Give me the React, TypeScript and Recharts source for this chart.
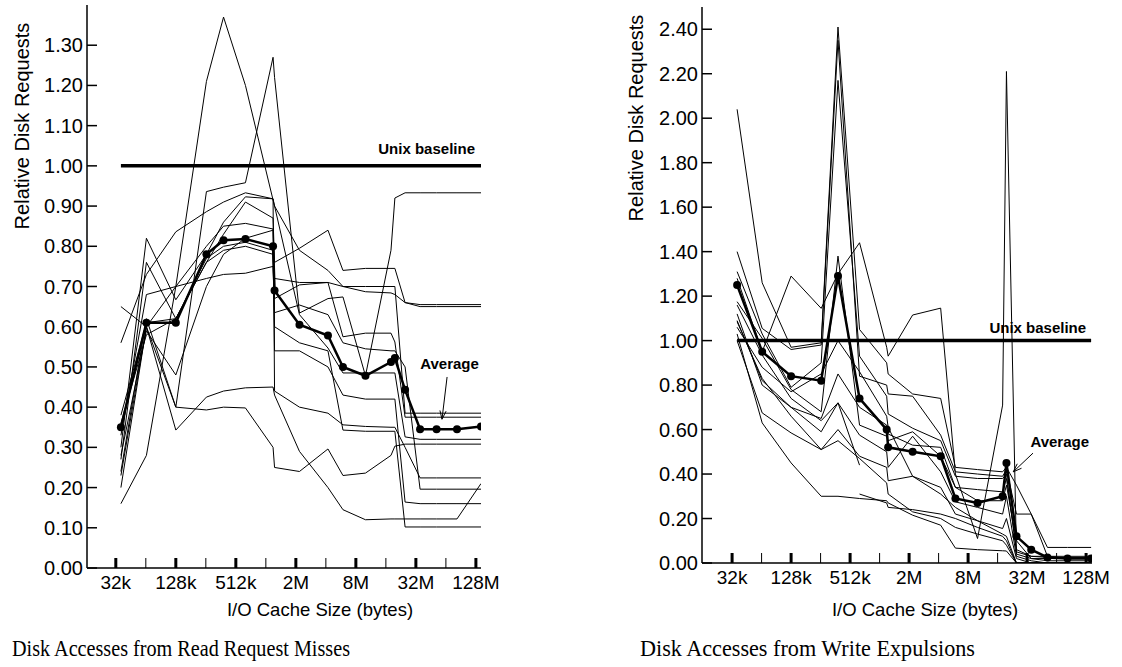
import React from "react";
import { LineChart, Line, XAxis, YAxis, ReferenceLine, ReferenceDot } from "recharts";

// Cache sizes as log2(size / 32k)
const cacheLog2 = [0, 0.85, 1.83, 2.85, 3.42, 4.15, 5.07, 5.12, 5.95, 6.9, 7.4, 8.15, 9.0, 9.13, 9.47, 9.97, 10.52, 11.2, 12];
const sizeLabels = ["32k", "64k", "128k", "256k", "512k", "1M", "2M", "4M", "8M", "16M", "32M", "64M", "128M"];
const tickShift = -0.17;

const readTicks = [0, 0.1, 0.2, 0.3, 0.4, 0.5, 0.6, 0.7, 0.8, 0.9, 1.0, 1.1, 1.2, 1.3];
const writeTicks = [0, 0.2, 0.4, 0.6, 0.8, 1.0, 1.2, 1.4, 1.6, 1.8, 2.0, 2.2, 2.4];

// Read request misses
const readAvg = [0.35, 0.61, 0.61, 0.78, 0.815, 0.818, 0.8, 0.69, 0.605, 0.578, 0.5, 0.478, 0.512, 0.522, 0.443, 0.345, 0.345, 0.345, 0.352];
const readA = [0.24, 0.62, 0.4, 0.936, 0.947, 0.958, 1.27, 1.22, 0.634, 0.67, 0.674, 0.478, 0.79, 0.92, 0.933, 0.933, 0.933, 0.933, 0.933];
const readB = [0.16, 0.28, 0.7, 1.21, 1.37, 1.2, 0.915, 0.9, 0.63, 0.547, 0.485, 0.485, 0.485, 0.485, 0.326, 0.32, 0.32, 0.32, 0.32];
const readC = [0.56, 0.73, 0.836, 0.886, 0.91, 0.933, 0.918, 0.9, 0.79, 0.74, 0.7, 0.687, 0.684, 0.68, 0.66, 0.65, 0.65, 0.65, 0.65];
const readD = [0.27, 0.76, 0.62, 0.76, 0.83, 0.91, 0.87, 0.76, 0.795, 0.84, 0.74, 0.745, 0.745, 0.745, 0.66, 0.655, 0.655, 0.655, 0.655];
const readE = [0.65, 0.6, 0.7, 0.8, 0.85, 0.857, 0.843, 0.72, 0.71, 0.71, 0.7, 0.7, 0.7, 0.7, 0.385, 0.385, 0.385, 0.385, 0.385];
const readF = [0.36, 0.58, 0.62, 0.77, 0.8, 0.81, 0.79, 0.67, 0.704, 0.71, 0.575, 0.584, 0.584, 0.562, 0.375, 0.375, 0.375, 0.375, 0.375];
const readG = [0.3, 0.82, 0.667, 0.78, 0.86, 0.923, 0.918, 0.44, 0.4, 0.385, 0.356, 0.352, 0.35, 0.35, 0.3, 0.224, 0.224, 0.224, 0.224];
const readH = [0.33, 0.68, 0.7, 0.72, 0.73, 0.733, 0.75, 0.635, 0.654, 0.63, 0.56, 0.545, 0.54, 0.54, 0.5, 0.196, 0.196, 0.196, 0.196];
const readI = [0.23, 0.6, 0.4, 0.393, 0.4, 0.398, 0.3, 0.25, 0.24, 0.296, 0.23, 0.236, 0.28, 0.303, 0.308, 0.308, 0.308, 0.308, 0.308];
const readJ = [0.2, 0.6, 0.343, 0.425, 0.44, 0.448, 0.45, 0.43, 0.29, 0.2, 0.145, 0.12, 0.122, 0.122, 0.122, 0.122, 0.122, 0.122, 0.21];
const readK = [0.28, 0.59, 0.48, 0.7, 0.78, 0.82, 0.84, 0.54, 0.54, 0.5, 0.43, 0.42, 0.42, 0.42, 0.164, 0.16, 0.16, 0.16, 0.16];
const readL = [0.38, 0.61, 0.62, 0.76, 0.79, 0.8, 0.78, 0.6, 0.56, 0.54, 0.343, 0.34, 0.34, 0.34, 0.102, 0.102, 0.102, 0.102, 0.102];
const readSeries = [readA, readB, readC, readD, readE, readF, readG, readH, readI, readJ, readK, readL];

// Write expulsions
const writeAvg = [1.25, 0.95, 0.84, 0.82, 1.29, 0.74, 0.6, 0.52, 0.5, 0.48, 0.29, 0.27, 0.3, 0.45, 0.12, 0.06, 0.025, 0.02, 0.02];
const writeA = [2.04, 1.26, 0.97, 0.99, 2.41, 1.05, 0.9, 0.85, 0.76, 0.74, 0.43, 0.42, 0.41, 0.43, 0.35, 0.22, 0.07, 0.07, 0.07];
const writeB = [1.4, 1.055, 0.96, 0.98, 2.35, 0.84, 0.8, 0.76, 0.75, 0.575, 0.41, 0.4, 0.39, 0.42, 0.22, 0.22, 0.03, 0.02, 0.02];
const writeC = [1.31, 1.03, 0.79, 0.9, 2.17, 0.93, 0.75, 0.67, 0.606, 0.55, 0.39, 0.38, 0.38, 0.4, 0.05, 0.03, 0.025, 0.025, 0.025];
const writeD = [1.28, 0.95, 1.29, 1.145, 1.3, 1.44, 0.97, 0.93, 1.115, 1.146, 0.4, 0.11, 0.71, 2.21, 0.04, 0.02, 0.02, 0.02, 0.02];
const writeE = [1.175, 1.01, 0.78, 0.68, 1.38, 0.62, 0.57, 0.55, 0.59, 0.48, 0.34, 0.28, 0.28, 0.35, 0.1, 0.02, 0.01, 0.01, 0.01];
const writeF = [1.16, 0.935, 0.74, 0.64, 0.72, 0.575, 0.5, 0.43, 0.57, 0.41, 0.275, 0.25, 0.22, 0.3, 0.03, 0.01, 0, 0, 0];
const writeG = [1.12, 0.8, 0.7, 0.59, 0.72, 0.44, null, null, null, null, null, null, null, null, null, null, null, null, null];
const writeH = [1.085, 0.83, 0.66, 0.51, 0.6, 0.48, 0.43, 0.37, 0.39, 0.34, 0.22, 0.19, 0.155, 0.2, 0.02, 0, 0, 0, 0];
const writeI = [1.03, 0.63, 0.45, 0.3, 0.3, 0.29, 0.28, 0.27, 0.215, 0.17, 0.067, 0.06, 0.055, 0.054, 0, 0, 0, 0, 0];
const writeJ = [1.0, 0.675, 0.585, 0.51, 0.55, 0.47, 0.36, 0.31, 0.23, 0.2, 0.16, 0.13, 0.1, 0.08, 0, 0, 0, 0, 0];
const writeK = [null, null, null, null, null, 0.31, 0.27, 0.25, 0.24, 0.22, 0.2, 0.16, 0.12, 0.1, 0, 0, 0, 0, 0];
const writeL = [1.09, 0.82, 0.7, 0.65, 0.85, 0.7, 0.62, 0.58, 0.53, 0.52, 0.34, 0.33, 0.32, 0.38, 0.06, 0.03, 0.03, 0.03, 0.03];
const writeM = [1.06, 0.88, 0.77, 0.85, 1.0, 0.86, 0.66, 0.61, 0.39, 0.31, 0.25, 0.19, 0.13, 0.12, 0, 0, 0, 0, 0];
const writeSeries = [writeA, writeB, writeC, writeD, writeE, writeF, writeG, writeH, writeI, writeJ, writeK, writeL, writeM];

const FONT = "'Liberation Sans', Arial, Helvetica, sans-serif";
const SERIF = "'Liberation Serif', 'Times New Roman', serif";

function buildRows(series: (number | null)[][], avg: number[]) {
  return cacheLog2.map((u, i) => {
    const row: Record<string, number | null> = { u, avg: avg[i] };
    series.forEach((s, k) => {
      row["s" + k] = s[i];
    });
    return row;
  });
}

const readRows = buildRows(readSeries, readAvg);
const writeRows = buildRows(writeSeries, writeAvg);
const xTicks = sizeLabels.map((_, k) => k + tickShift);

const XTick = (props: any) => {
  const { x, y, payload } = props;
  const k = Math.round(payload.value - tickShift);
  const major = k % 2 === 0;
  return (
    <g>
      <line x1={x} x2={x} y1={y} y2={y - 10} stroke="#000" strokeWidth={major ? 3 : 1} />
      {major && (
        <text x={x} y={y + 21} textAnchor="middle" fontSize={19} fontFamily={FONT} fill="#000">
          {sizeLabels[k]}
        </text>
      )}
    </g>
  );
};

const YTick = (props: any) => {
  const { x, y, payload } = props;
  return (
    <g>
      <line x1={x} x2={x + 10} y1={y} y2={y} stroke="#000" strokeWidth={1.5} />
      <text x={x - 4} y={y} textAnchor="end" dominantBaseline="central" fontSize={20} fontFamily={FONT} fill="#000">
        {Number(payload.value).toFixed(2)}
      </text>
    </g>
  );
};

const textShape = (txt: string, dy: number) => (p: any) => (
  <text x={p.cx} y={p.cy + dy} textAnchor="end" fontSize={15} fontWeight="bold" fontFamily={FONT} fill="#000">
    {txt}
  </text>
);

const arrowShape = (p: any) => {
  const { x1, y1, x2, y2 } = p;
  const ang = Math.atan2(y2 - y1, x2 - x1);
  const L = 9;
  const w = 0.35;
  const ax = x2 - L * Math.cos(ang - w);
  const ay = y2 - L * Math.sin(ang - w);
  const bx = x2 - L * Math.cos(ang + w);
  const by = y2 - L * Math.sin(ang + w);
  return (
    <g>
      <line x1={x1} y1={y1} x2={x2} y2={y2} stroke="#000" strokeWidth={1} />
      <path d={`M${ax},${ay} L${x2},${y2} L${bx},${by}`} fill="none" stroke="#000" strokeWidth={1} />
    </g>
  );
};

type PanelProps = {
  rows: any[];
  n: number;
  left: number;
  width: number;
  margin: { top: number; right: number; left: number; bottom: number };
  yAxisWidth: number;
  xAxisHeight: number;
  xDomain: [number, number];
  yDomain: [number, number];
  yTicks: number[];
  baselineDy: number;
  baselineEnd: number;
  avgLabel: { x: number; y: number };
  arrow: { x1: number; y1: number; x2: number; y2: number };
};

const Panel = (p: PanelProps) => (
  <div style={{ position: "absolute", left: p.left, top: 0 }}>
    <LineChart width={p.width} height={600} data={p.rows} margin={p.margin}>
      <XAxis
        type="number"
        dataKey="u"
        domain={p.xDomain}
        ticks={xTicks}
        interval={0}
        allowDataOverflow
        height={p.xAxisHeight}
        tickSize={0}
        tickMargin={0}
        tick={<XTick />}
        axisLine={{ stroke: "#000", strokeWidth: 1.5 }}
        tickLine={false}
      />
      <YAxis
        type="number"
        domain={p.yDomain}
        ticks={p.yTicks}
        interval={0}
        allowDataOverflow
        width={p.yAxisWidth}
        tickSize={0}
        tickMargin={0}
        tick={<YTick />}
        axisLine={{ stroke: "#000", strokeWidth: 1.5 }}
        tickLine={false}
      />
      <ReferenceLine
        segment={[
          { x: 0, y: 1 },
          { x: 12, y: 1 },
        ]}
        stroke="#000"
        strokeWidth={3.5}
        ifOverflow="visible"
      />
      {Array.from({ length: p.n }).map((_, k) => (
        <Line
          key={k}
          type="linear"
          dataKey={"s" + k}
          stroke="#000"
          strokeWidth={1}
          dot={false}
          activeDot={false}
          isAnimationActive={false}
          connectNulls={false}
        />
      ))}
      <Line
        type="linear"
        dataKey="avg"
        stroke="#000"
        strokeWidth={2.5}
        dot={{ r: 4, fill: "#000", stroke: "#000", strokeWidth: 0 }}
        activeDot={false}
        isAnimationActive={false}
      />
      <ReferenceDot x={p.baselineEnd} y={1} r={0} shape={textShape("Unix baseline", p.baselineDy)} ifOverflow="visible" />
      <ReferenceDot x={p.avgLabel.x} y={p.avgLabel.y} r={0} shape={textShape("Average", 0)} ifOverflow="visible" />
      <ReferenceLine
        segment={[
          { x: p.arrow.x1, y: p.arrow.y1 },
          { x: p.arrow.x2, y: p.arrow.y2 },
        ]}
        shape={arrowShape}
        ifOverflow="visible"
      />
    </LineChart>
  </div>
);

export default function App() {
  return (
    <div style={{ position: "absolute", left: 0, top: 0, width: 1122, height: 667, background: "#fff", overflow: "hidden" }}>
      <Panel
        rows={readRows}
        n={readSeries.length}
        left={0}
        width={510}
        margin={{ top: 5, right: 29, left: 0, bottom: 0 }}
        yAxisWidth={87}
        xAxisHeight={32}
        xDomain={[-1.13, 12]}
        yDomain={[0, 1.4]}
        yTicks={readTicks}
        baselineDy={-12}
        baselineEnd={11.8}
        avgLabel={{ x: 11.93, y: 0.495 }}
        arrow={{ x1: 10.87, y1: 0.475, x2: 10.7, y2: 0.37 }}
      />
      <Panel
        rows={writeRows}
        n={writeSeries.length}
        left={615}
        width={507}
        margin={{ top: 7, right: 30, left: 0, bottom: 0 }}
        yAxisWidth={87}
        xAxisHeight={37}
        xDomain={[-1.19, 12.03]}
        yDomain={[0, 2.5]}
        yTicks={writeTicks}
        baselineDy={-8}
        baselineEnd={11.83}
        avgLabel={{ x: 11.93, y: 0.52 }}
        arrow={{ x1: 10.03, y1: 0.494, x2: 9.36, y2: 0.41 }}
      />
      <svg width={1122} height={667} style={{ position: "absolute", left: 0, top: 0, pointerEvents: "none" }}>
        <text transform="translate(29,126) rotate(-90)" textAnchor="middle" fontSize={20} fontFamily={FONT} fill="#000">
          Relative Disk Requests
        </text>
        <text transform="translate(643,118) rotate(-90)" textAnchor="middle" fontSize={20} fontFamily={FONT} fill="#000">
          Relative Disk Requests
        </text>
        <text x={320} y={616} textAnchor="middle" fontSize={18.5} fontFamily={FONT} fill="#000">
          I/O Cache Size (bytes)
        </text>
        <text x={925} y={616} textAnchor="middle" fontSize={18.5} fontFamily={FONT} fill="#000">
          I/O Cache Size (bytes)
        </text>
        <text x={12} y={656} fontSize={23} fontFamily={SERIF} fill="#000" textLength={338} lengthAdjust="spacingAndGlyphs">
          Disk Accesses from Read Request Misses
        </text>
        <text x={640} y={656} fontSize={23} fontFamily={SERIF} fill="#000" textLength={335} lengthAdjust="spacingAndGlyphs">
          Disk Accesses from Write Expulsions
        </text>
      </svg>
    </div>
  );
}
